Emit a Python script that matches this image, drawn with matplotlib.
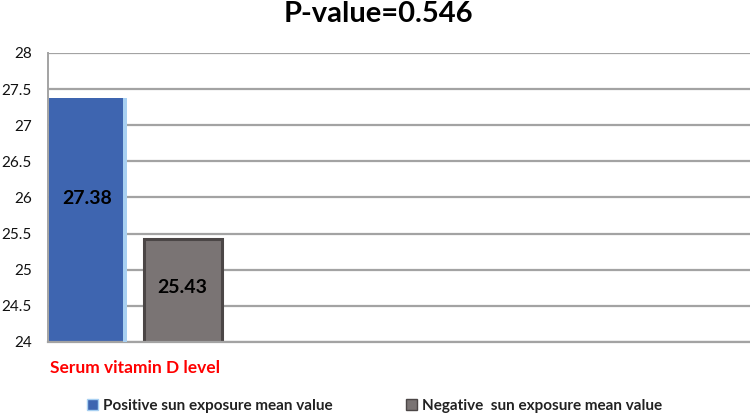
import matplotlib.pyplot as plt
import matplotlib.patches as mpatches

plt.rcParams["font.family"] = ["Lato", "DejaVu Sans"]

# data
category = "Serum vitamin D level"
series = ["Positive sun exposure mean value", "Negative  sun exposure mean value"]
values = [27.38, 25.43]
label_y = [25.98, 24.76]   # where the value labels sit inside the bars
p_value = 0.546

BLUE = "#3e65b0"
BLUE_EDGE = "#a8d0f2"
GRAY = "#7a7474"
GRAY_EDGE = "#4b4646"
GRID = "#a3a3a3"

fig = plt.figure(figsize=(7.5, 4.17), dpi=100, facecolor="white")
ax = fig.add_axes([0.064, 0.18, 0.936, 0.693])

y0 = 24
width = 0.82
xs = [0, 1]

ax.set_ylim(24, 28)
ax.set_xlim(-0.416, 6.97)
ax.set_yticks([24, 24.5, 25, 25.5, 26, 26.5, 27, 27.5, 28])
ax.set_yticklabels(["24", "24.5", "25", "25.5", "26", "26.5", "27", "27.5", "28"])
ax.yaxis.grid(True, color=GRID, linewidth=1.6)
ax.set_axisbelow(True)

for s in ["top", "right"]:
    ax.spines[s].set_visible(False)
ax.spines["left"].set_color(GRID)
ax.spines["bottom"].set_color(GRID)
ax.spines["left"].set_linewidth(1.4)
ax.spines["bottom"].set_linewidth(1.6)
ax.tick_params(axis="y", length=0, pad=11.5, labelsize=11, labelcolor="#111111")
ax.tick_params(axis="x", length=0, pad=13)

# blue bar with light right-hand highlight
ax.bar(xs[0], values[0] - y0, bottom=y0, width=width, color=BLUE, zorder=2)
ax.bar(xs[0] + width / 2 - 0.02, values[0] - y0, bottom=y0, width=0.04,
       color=BLUE_EDGE, zorder=3)
# gray bar with darker bevel
ax.bar(xs[1], values[1] - y0, bottom=y0, width=width, color=GRAY,
       edgecolor=GRAY_EDGE, linewidth=2.2, zorder=2)

for x, v, ly in zip(xs, values, label_y):
    ax.text(x, ly, f"{v:.2f}", ha="center", va="center", fontsize=14,
            fontweight="bold", color="black", zorder=4)

ax.set_xticks([0.5])
ax.set_xticklabels([category], color="#ff0000", fontsize=12.5, fontweight="bold")

fig.text(0.504, 0.966, f"P-value={p_value}", ha="center", va="center",
         fontsize=21, fontweight="bold", color="black")

handles = [mpatches.Patch(facecolor=BLUE, edgecolor=BLUE_EDGE, label=series[0]),
           mpatches.Patch(facecolor=GRAY, edgecolor=GRAY_EDGE, label=series[1])]
leg = fig.legend(handles=handles, loc="center", bbox_to_anchor=(0.5, 0.027),
                 ncol=2, frameon=False, fontsize=11, handlelength=0.7,
                 handleheight=0.7, handletextpad=0.35, columnspacing=4.8)
for t in leg.get_texts():
    t.set_fontweight("bold")
    t.set_color("#222222")

fig.savefig("out.png", dpi=100, facecolor="white")
